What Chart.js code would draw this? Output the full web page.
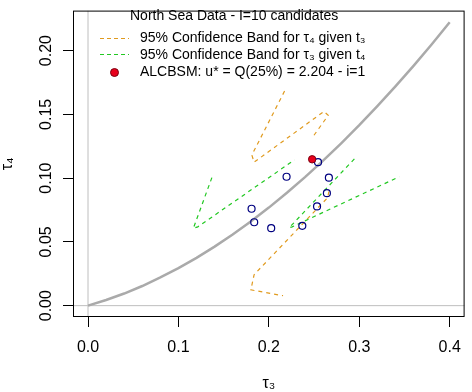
<!DOCTYPE html>
<html>
<head>
<meta charset="utf-8">
<script src="https://cdn.jsdelivr.net/npm/chart.js@4/dist/chart.umd.min.js"></script>
<style>
  html, body { margin: 0; padding: 0; background: #fff; }
  #wrap { width: 472px; height: 392px; }
</style>
</head>
<body>
<div id="wrap"><canvas id="lmrChart"></canvas></div>
<script>
// axis ticks
const xTicks = [0, 0.1, 0.2, 0.3, 0.4];
const xTickLabels = ['0.0', '0.1', '0.2', '0.3', '0.4'];
const yTicks = [0, 0.05, 0.10, 0.15, 0.20];
const yTickLabels = ['0.00', '0.05', '0.10', '0.15', '0.20'];
const xLim = [-0.0166, 0.4165];
const yLim = [-0.0089, 0.2314];

// theoretical curve
const curveT3 = [0, 0.02, 0.04, 0.06, 0.08, 0.10, 0.12, 0.14, 0.16, 0.18, 0.20,
                 0.22, 0.24, 0.26, 0.28, 0.30, 0.32, 0.34, 0.36, 0.38, 0.40];
const curveT4 = [0, 0.0044, 0.0095, 0.0154, 0.0221, 0.0294, 0.0375, 0.0463, 0.0558, 0.0660, 0.0769,
                 0.0885, 0.1008, 0.1137, 0.1273, 0.1415, 0.1564, 0.1719, 0.1881, 0.2048, 0.2222];

// candidate points
const candT3 = [0.2544, 0.2196, 0.2664, 0.2642, 0.1809, 0.2533, 0.1838, 0.2026, 0.2370];
const candT4 = [0.1125, 0.1011, 0.1004, 0.0882, 0.0760, 0.0778, 0.0654, 0.0608, 0.0626];
const bestT3 = [0.2479];
const bestT4 = [0.1148];

// 95% band for tau4 given t3 (orange)
const bandA1T3 = [0.2174, 0.1812, 0.1837, 0.2609, 0.2657, 0.2483];
const bandA1T4 = [0.1683, 0.1181, 0.1125, 0.1523, 0.1493, 0.1320];
const bandA2T3 = [0.2665, 0.2649, 0.1837, 0.1801, 0.2157];
const bandA2T4 = [0.0896, 0.0846, 0.0243, 0.0124, 0.0078];

// 95% band for tau3 given t4 (green)
const bandB1T3 = [0.1370, 0.1165, 0.1214, 0.2283];
const bandB1T4 = [0.1004, 0.0607, 0.0618, 0.1143];
const bandB2T3 = [0.2946, 0.2225, 0.2258, 0.3442];
const bandB2T4 = [0.1151, 0.0611, 0.0618, 0.1011];

const ORANGE = '#E09A1E';
const GREEN = '#22C822';
const FONT = 'Liberation Sans, Arial, sans-serif';

const pts = (xs, ys) => xs.map((x, i) => ({ x: x, y: ys[i] }));

const lineSet = (data, color, width, dash) => ({
    data: data,
    showLine: true,
    borderColor: color,
    borderWidth: width,
    borderDash: dash,
    pointRadius: 0,
    fill: false,
    tension: 0
});

// box around plot + legend drawn inside plot area
const rPlot = {
    id: 'rPlot',
    afterDraw(chart) {
        const { ctx, chartArea: a } = chart;
        ctx.save();
        ctx.strokeStyle = '#000';
        ctx.lineWidth = 1;
        ctx.strokeRect(a.left + 0.5, a.top + 0.5, a.right - a.left - 1, a.bottom - a.top - 1);

        ctx.font = '14px ' + FONT;
        ctx.fillStyle = '#000';
        ctx.textBaseline = 'middle';
        ctx.textAlign = 'left';
        ctx.fillText('North Sea Data - I=10 candidates', 130, 16);

        ctx.lineWidth = 1.2;
        ctx.setLineDash([4, 3]);
        ctx.strokeStyle = ORANGE;
        ctx.beginPath(); ctx.moveTo(100, 38.5); ctx.lineTo(129, 38.5); ctx.stroke();
        ctx.strokeStyle = GREEN;
        ctx.beginPath(); ctx.moveTo(100, 54.5); ctx.lineTo(129, 54.5); ctx.stroke();
        ctx.setLineDash([]);

        ctx.fillText('95% Confidence Band for \u03c4\u2084 given t\u2083', 140, 38);
        ctx.fillText('95% Confidence Band for \u03c4\u2083 given t\u2084', 140, 55);
        ctx.fillText('ALCBSM: u* = Q(25%) = 2.204 - i=1', 140, 72);

        ctx.lineWidth = 1;
        ctx.beginPath();
        ctx.arc(114.5, 72.5, 4, 0, Math.PI * 2);
        ctx.fillStyle = '#E8001C';
        ctx.fill();
        ctx.strokeStyle = '#7A0010';
        ctx.stroke();
        ctx.restore();
    }
};

document.addEventListener('DOMContentLoaded', () => {
    const ctx = document.getElementById('lmrChart').getContext('2d');
    new Chart(ctx, {
        type: 'scatter',
        data: {
            datasets: [
                {
                    data: pts(bestT3, bestT4),
                    pointRadius: 3.7,
                    pointBackgroundColor: '#E8001C',
                    pointBorderColor: '#7A0010',
                    pointBorderWidth: 1
                },
                {
                    data: pts(candT3, candT4),
                    pointRadius: 3.5,
                    pointBackgroundColor: 'rgba(255,255,255,0)',
                    pointBorderColor: '#000080',
                    pointBorderWidth: 1.2
                },
                lineSet(pts(bandB1T3, bandB1T4), GREEN, 1.2, [4, 4]),
                lineSet(pts(bandB2T3, bandB2T4), GREEN, 1.2, [4, 4]),
                lineSet(pts(bandA1T3, bandA1T4), ORANGE, 1.2, [4, 4]),
                lineSet(pts(bandA2T3, bandA2T4), ORANGE, 1.2, [4, 4]),
                lineSet(pts(curveT3, curveT4), '#AAAAAA', 2.5, []),
                lineSet([{ x: 0, y: yLim[0] }, { x: 0, y: yLim[1] }], '#BEBEBE', 1, []),
                lineSet([{ x: xLim[0], y: 0 }, { x: xLim[1], y: 0 }], '#BEBEBE', 1, [])
            ]
        },
        options: {
            responsive: true,
            maintainAspectRatio: false,
            animation: false,
            layout: { padding: { top: 1, right: 1, left: 0, bottom: 0 } },
            plugins: {
                legend: { display: false },
                tooltip: { enabled: false }
            },
            scales: {
                x: {
                    type: 'linear',
                    min: xLim[0],
                    max: xLim[1],
                    afterBuildTicks: (axis) => { axis.ticks = xTicks.map(v => ({ value: v })); },
                    afterFit: (axis) => { axis.height = 75; },
                    grid: { drawOnChartArea: false, drawTicks: true, tickLength: 10, color: '#000' },
                    border: { display: false },
                    ticks: {
                        padding: 11,
                        color: '#000',
                        font: { family: FONT, size: 16 },
                        maxRotation: 0,
                        callback: (v, i) => xTickLabels[i]
                    },
                    title: {
                        display: true,
                        text: '\u03c4\u2083',
                        color: '#000',
                        font: { family: FONT, size: 16, lineHeight: 1 },
                        padding: 0
                    }
                },
                y: {
                    type: 'linear',
                    min: yLim[0],
                    max: yLim[1],
                    afterBuildTicks: (axis) => { axis.ticks = yTicks.map(v => ({ value: v })); },
                    afterFit: (axis) => { axis.width = 73; },
                    grid: { drawOnChartArea: false, drawTicks: true, tickLength: 10, color: '#000' },
                    border: { display: false },
                    ticks: {
                        padding: 1,
                        color: '#000',
                        crossAlign: 'center',
                        minRotation: 90,
                        maxRotation: 90,
                        font: { family: FONT, size: 16 },
                        callback: (v, i) => yTickLabels[i]
                    },
                    title: {
                        display: true,
                        text: '\u03c4\u2084',
                        color: '#000',
                        font: { family: FONT, size: 16, lineHeight: 1 },
                        padding: { top: 0, bottom: 0 }
                    }
                }
            }
        },
        plugins: [rPlot]
    });
});
</script>
</body>
</html>
